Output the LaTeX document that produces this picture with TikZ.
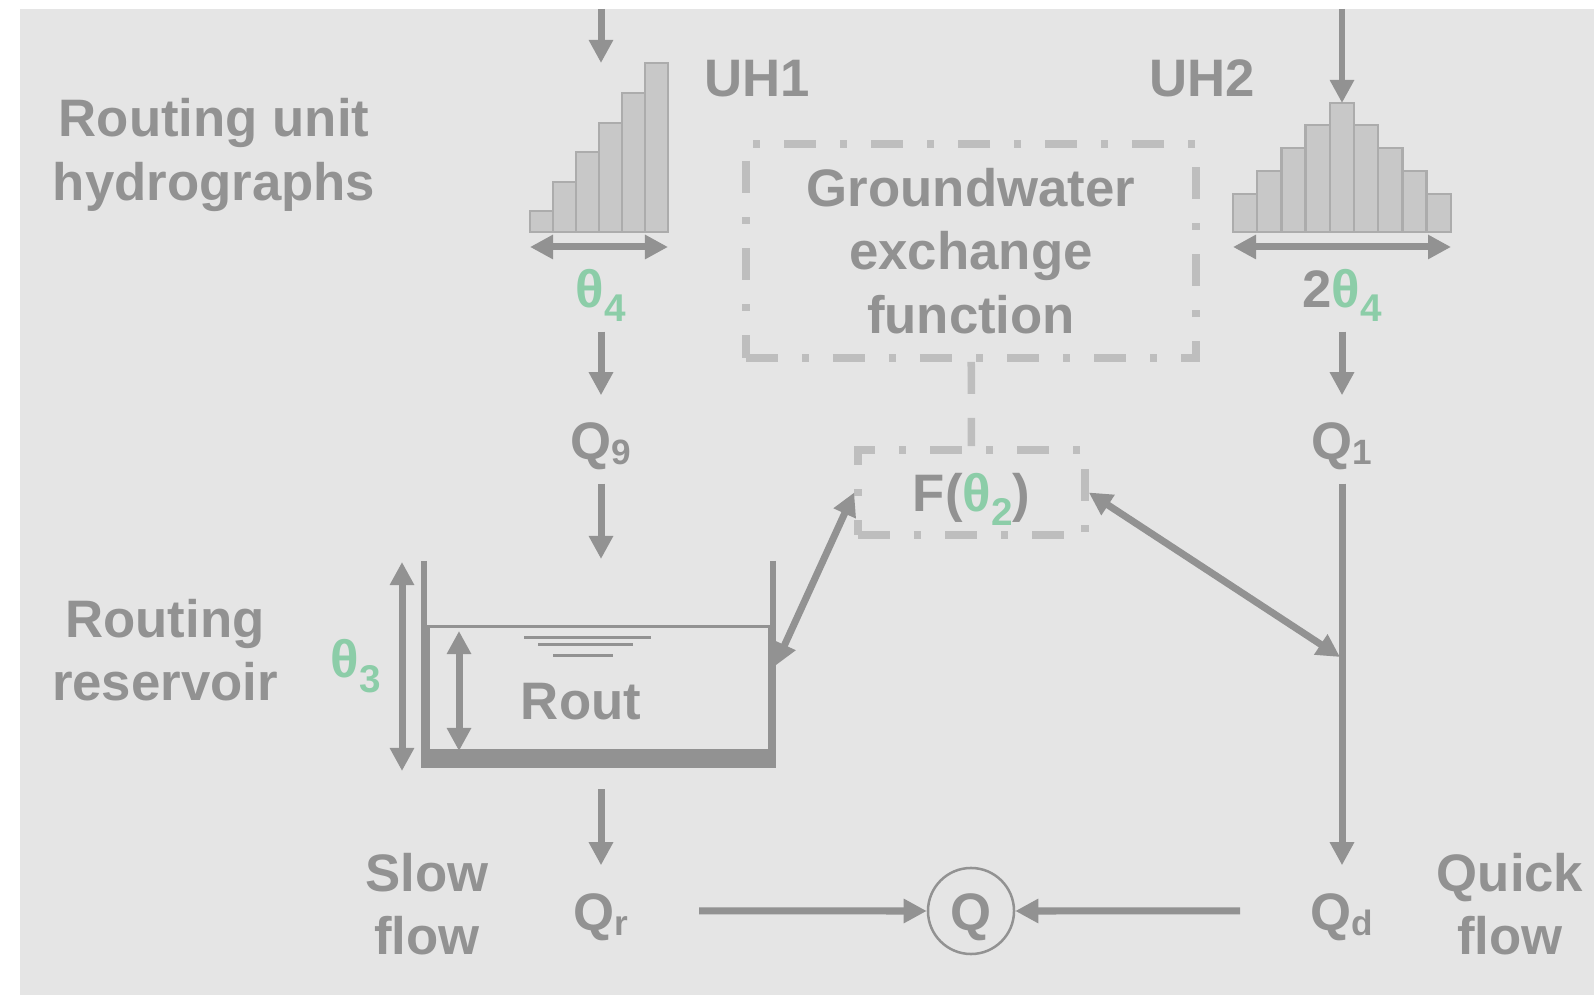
\documentclass[tikz,border=0pt]{standalone}
\usepackage{fontspec}
\setmainfont{Liberation Sans}
\usetikzlibrary{arrows.meta}
\definecolor{inkgray}{RGB}{146,146,146}
\definecolor{paramgreen}{RGB}{140,205,168}
\definecolor{panelgray}{RGB}{229,229,229}
\definecolor{dashgray}{RGB}{190,190,190}
\definecolor{barfill}{RGB}{200,200,200}
\definecolor{baredge}{RGB}{172,172,172}
\newcommand{\qidx}[1]{\raisebox{-0.05cm}{\fontsize{10}{10}\selectfont #1}}
\newcommand{\pidx}[1]{\raisebox{-0.14cm}{\fontsize{11}{11}\selectfont #1}}
\newcommand{\param}[1]{\textcolor{paramgreen}{θ\pidx{#1}}}

\begin{document}
\begin{tikzpicture}[x=0.01cm, y=-0.01cm, >={Triangle[length=0.23cm,width=0.23cm]}]

        % --- Styles ---
        \tikzset{
            txt/.style={text=inkgray, font=\fontsize{15}{18}\selectfont\bfseries, align=center, inner sep=0pt},
            val/.style={text=inkgray, font=\fontsize{15}{18}\selectfont\bfseries, inner sep=0pt, anchor=base, text height=0.38cm, text depth=0cm},
            flow/.style={->, draw=inkgray, line width=0.07cm},
            span/.style={<->, draw=inkgray, line width=0.07cm},
            bar/.style={fill=barfill, draw=baredge, line width=0.025cm},
            dashbox/.style={draw=dashgray, line width=0.075cm, dash pattern=on 0.32cm off 0.24cm on 0.07cm off 0.24cm},
            gwlink/.style={draw=dashgray, line width=0.075cm, dash pattern=on 0.32cm off 0.24cm},
            wall/.style={draw=inkgray, line width=0.06cm},
            water/.style={draw=inkgray, line width=0.03cm}
        }

        % --- Panel ---
        \fill[white] (0,0) rectangle (1594,995);
        \fill[panelgray] (20,9) rectangle (1594,995);
        \useasboundingbox (0,0) rectangle (1594,995);

        % --- Unit hydrographs ---
        \node[txt] (uhlab) at (214,155) {Routing unit\\hydrographs};
        \node[txt, anchor=base] (uh1lab) at (757,97) {UH1};
        \node[txt, anchor=base] (uh2lab) at (1202,97) {UH2};

        \foreach \h [count=\i] in {211,182,152,123,93,63}
            \draw[bar] ({530+23*(\i-1)},232) rectangle ({530+23*\i},\h);
        \foreach \h [count=\i] in {194,171,148,125,103,125,148,171,194}
            \draw[bar] ({1233+24.2*(\i-1)},232) rectangle ({1233+24.2*\i},\h);

        \coordinate (uh1in) at (601,9);
        \coordinate (uh1top) at (601,63);
        \coordinate (uh2in) at (1342,9);
        \coordinate (uh2top) at (1342,103);
        \coordinate (uh1l) at (530,247);
        \coordinate (uh1r) at (668,247);
        \coordinate (uh2l) at (1233,247);
        \coordinate (uh2r) at (1451,247);

        \draw[flow] (uh1in) -- (uh1top);
        \draw[flow, line width=0.06cm] (uh2in) -- (uh2top);
        \draw[span] (uh1l) -- (uh1r);
        \draw[span] (uh2l) -- (uh2r);

        \node[val] (th4) at (601,308) {\param{4}};
        \node[val] (th4b) at (1342,308) {2\param{4}};
        \node[val] (q9) at (601,460) {Q\qidx{9}};
        \node[val] (q1) at (1342,460) {Q\qidx{1}};

        % --- Groundwater exchange ---
        \node[txt, dashbox, minimum width=4.5cm, minimum height=2.14cm] (gw) at (971,251) {Groundwater\\exchange\\function};
        \node[val, dashbox, anchor=center, minimum width=2.27cm, minimum height=0.85cm] (fx) at (971.5,492.5) {F(\param{2})};
        \draw[gwlink] (gw) -- (fx);

        % --- Routing reservoir ---
        \node[txt] (reslab) at (165,650) {Routing\\reservoir};
        \node[val] (th3) at (356,678) {\param{3}};

        \draw[wall] (424,561) -- (424,760);
        \draw[wall] (773,561) -- (773,760);
        \draw[water] (428,627) rectangle (769,751);
        \draw[water] (524,638) -- (651,638);
        \draw[water] (538,645) -- (633,645);
        \draw[water] (553,656) -- (613,656);
        \fill[inkgray] (421,751) rectangle (776,768);
        \node[val] (rout) at (581,720) {Rout};

        \coordinate (resin) at (601,559);
        \coordinate (resout) at (601,768);
        \coordinate (reswall) at (775,666);
        \coordinate (lvl1) at (459,631);
        \coordinate (lvl2) at (459,751);
        \coordinate (cap1) at (402,562);
        \coordinate (cap2) at (402,771);
        \coordinate (qjoin) at (1340,657);

        \draw[span] (lvl1) -- (lvl2);
        \draw[span] (cap1) -- (cap2);

        % --- Outflows ---
        \node[txt] (slow) at (427,904) {Slow\\flow};
        \node[txt] (quick) at (1510,904) {Quick\\flow};
        \node[val] (qr) at (601,930) {Q\qidx{r}};
        \node[val] (qd) at (1342,930) {Q\qidx{d}};
        \node[val, anchor=center, circle, draw=inkgray, line width=0.025cm, minimum size=0.86cm] (qsum) at (971,911) {Q};

        % --- Connectors ---
        \draw[flow, shorten <=0.23cm, shorten >=0.26cm] (th4) -- (q9);
        \draw[flow, shorten <=0.23cm] (q9) -- (resin);
        \draw[flow, shorten <=0.23cm, shorten >=0.26cm] (th4b) -- (q1);
        \draw[flow, shorten <=0.23cm, shorten >=0.26cm] (q1) -- (qd);
        \draw[flow, shorten <=0.21cm, shorten >=0.26cm] (resout) -- (qr);
        \draw[flow, shorten <=0.7cm] (qr) -- (qsum);
        \draw[flow, shorten <=0.7cm] (qd) -- (qsum);
        \draw[span] (fx.west) -- (reswall);
        \draw[span] (fx.east) -- (qjoin);

\end{tikzpicture}
\end{document}
